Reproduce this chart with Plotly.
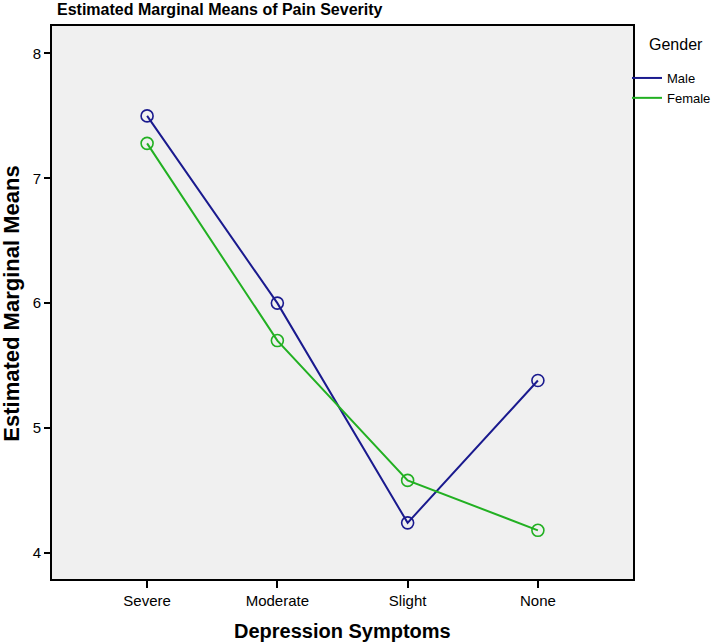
import plotly.graph_objects as go

categories = ["Severe", "Moderate", "Slight", "None"]
male = [7.50, 6.00, 4.24, 5.38]
female = [7.28, 5.70, 4.58, 4.18]
y_ticks = [4, 5, 6, 7, 8]

male_color = "#1a1a8e"
female_color = "#22b022"

fig = go.Figure()
for name, vals, col in [("Male", male, male_color), ("Female", female, female_color)]:
    fig.add_trace(go.Scatter(
        x=list(range(len(categories))), y=vals, mode="lines+markers", name=name,
        line=dict(color=col, width=2),
        marker=dict(symbol="circle-open", size=12, color=col, line=dict(width=1.6, color=col)),
        showlegend=False, hoverinfo="skip"))
    fig.add_trace(go.Scatter(
        x=[None], y=[None], mode="lines", name=name,
        line=dict(color=col, width=2), showlegend=True))

fig.update_layout(
    width=714, height=644,
    margin=dict(l=52, r=81, t=26, b=65, autoexpand=False),
    paper_bgcolor="white", plot_bgcolor="#f0f0f0",
    font=dict(family="Liberation Sans, Arial, sans-serif", color="black", size=15),
    title=dict(text="<b>Estimated Marginal Means of Pain Severity</b>",
               x=57 / 714, xref="container", xanchor="left",
               y=1, yref="container", yanchor="top", pad=dict(t=4, l=0),
               font=dict(size=16, color="black")),
    xaxis=dict(
        range=[-0.73, 3.73], tickmode="array", tickvals=list(range(len(categories))),
        ticktext=categories, showgrid=False, zeroline=False,
        showline=True, linecolor="black", linewidth=2, mirror=True,
        ticks="outside", ticklen=7, tickwidth=2, tickcolor="black",
        tickfont=dict(size=15)),
    yaxis=dict(
        range=[3.79, 8.22], tickmode="array", tickvals=y_ticks,
        showgrid=False, zeroline=False,
        showline=True, linecolor="black", linewidth=2, mirror=True,
        ticks="outside", ticklen=6, tickwidth=2, tickcolor="black",
        tickfont=dict(size=15)),
    legend=dict(x=627 / 714, xref="container", xanchor="left",
                y=1 - 63 / 644, yref="container", yanchor="top",
                bgcolor="rgba(0,0,0,0)", font=dict(size=13),
                itemwidth=30, tracegroupgap=0),
    annotations=[
        dict(text="Gender", xref="paper", yref="paper", x=1.024, y=0.967,
             xanchor="left", yanchor="middle", showarrow=False,
             font=dict(size=16, color="black")),
        dict(text="<b>Estimated Marginal Means</b>", xref="paper", yref="paper",
             x=-0.0688, y=0.498, xanchor="center", yanchor="middle", textangle=-90,
             showarrow=False, font=dict(size=22, color="black")),
        dict(text="<b>Depression Symptoms</b>", xref="paper", yref="paper",
             x=0.5, y=-0.094, xanchor="center", yanchor="middle",
             showarrow=False, font=dict(size=20, color="black")),
    ],
)

fig.write_html("out.html", config={"displayModeBar": False},
               post_script="document.body.style.margin='0';document.body.style.overflow='hidden';")
